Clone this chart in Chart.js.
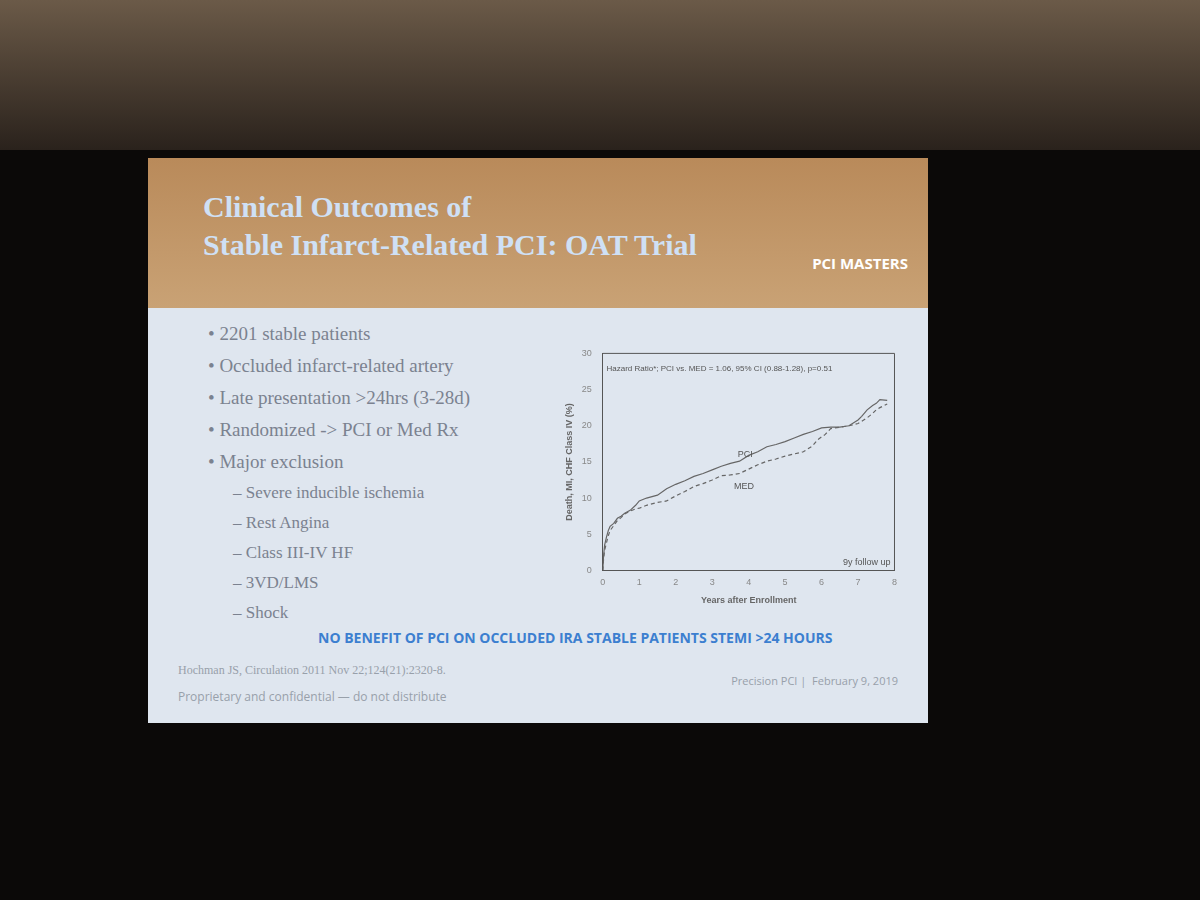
<!DOCTYPE html>
<html><head><meta charset="utf-8">
<script src="https://cdn.jsdelivr.net/npm/chart.js@4"></script>
<style>
body{margin:0;width:1200px;height:900px;background:#0b0908;position:relative;overflow:hidden;font-family:"Liberation Serif",serif}
#ceil{position:absolute;left:0;top:0;width:1200px;height:150px;background:linear-gradient(#6b5a48,#2a221c)}
#slide{position:absolute;left:148px;top:158px;width:780px;height:565px;background:#dfe6ef}
#hdr{position:absolute;left:0;top:0;width:780px;height:150px;background:linear-gradient(#b98a5a,#c9a275)}
#hdr h1{margin:0;position:absolute;left:55px;top:30px;color:#cfe0f5;font-weight:bold;font-size:30px;line-height:38px}
#logo{position:absolute;right:20px;top:95px;color:#fff;font-family:"Open Sans",sans-serif;font-size:15px;font-weight:bold}
ul{position:absolute;left:60px;top:160px;margin:0;padding:0;list-style:none;color:#7b8290;font-size:19px;line-height:32px}
ul li.s{padding-left:25px;font-size:17px;line-height:30px}
#msg{position:absolute;left:170px;top:470px;color:#3c7fd0;font-family:"Open Sans",sans-serif;font-weight:bold;font-size:14px}
#ref{position:absolute;left:30px;top:505px;color:#98a0aa;font-size:12px}
#conf{position:absolute;left:30px;top:530px;color:#98a0aa;font-family:"Open Sans",sans-serif;font-size:12px}
#date{position:absolute;right:30px;top:515px;color:#98a0aa;font-family:"Open Sans",sans-serif;font-size:11px}
#wrap{position:absolute;left:560px;top:345px;width:340px;height:265px}
</style></head><body>
<div id="ceil"></div>
<div id="slide">
<div id="hdr"><h1>Clinical Outcomes of<br>Stable Infarct-Related PCI: OAT Trial</h1><div id="logo">PCI MASTERS</div></div>
<ul>
<li>• 2201 stable patients</li>
<li>• Occluded infarct-related artery</li>
<li>• Late presentation &gt;24hrs (3-28d)</li>
<li>• Randomized -&gt; PCI or Med Rx</li>
<li>• Major exclusion</li>
<li class="s">– Severe inducible ischemia</li>
<li class="s">– Rest Angina</li>
<li class="s">– Class III-IV HF</li>
<li class="s">– 3VD/LMS</li>
<li class="s">– Shock</li>
</ul>
<div id="msg">NO BENEFIT OF PCI ON OCCLUDED IRA STABLE PATIENTS STEMI &gt;24 HOURS</div>
<div id="ref">Hochman JS, Circulation 2011 Nov 22;124(21):2320-8.</div>
<div id="conf">Proprietary and confidential — do not distribute</div>
<div id="date">Precision PCI | &nbsp;February 9, 2019</div>
</div>
<div id="wrap"><canvas id="c"></canvas></div>
<script>
const pciX=[0,0.02,0.05,0.1,0.15,0.2,0.3,0.4,0.5,0.6,0.75,0.9,1,1.2,1.5,1.75,2,2.25,2.5,2.75,3,3.25,3.5,3.75,4,4.25,4.5,4.75,5,5.25,5.5,5.75,6,6.25,6.5,6.75,7,7.1,7.25,7.4,7.5,7.6,7.8];
const pciY=[0,2,3.5,4.6,5.5,6.1,6.5,7.2,7.5,7.9,8.3,9,9.6,10,10.4,11.3,11.9,12.4,13,13.4,13.9,14.4,14.8,15.1,15.9,16.4,17.1,17.4,17.8,18.3,18.8,19.2,19.7,19.8,19.8,20,20.8,21.3,22.2,22.8,23.1,23.6,23.5];
const medX=[0,0.02,0.05,0.1,0.15,0.2,0.3,0.4,0.5,0.6,0.75,0.9,1,1.2,1.5,1.75,2,2.25,2.5,2.75,3,3.25,3.5,3.75,4,4.25,4.5,4.75,5,5.25,5.5,5.75,5.9,6.1,6.25,6.5,6.75,7,7.25,7.4,7.5,7.6,7.8];
const medY=[0,1.5,2.8,3.8,4.8,5.5,6.2,6.9,7.3,7.8,8.2,8.5,8.6,9,9.4,9.6,10.3,10.9,11.6,12,12.5,13.1,13.2,13.4,14,14.6,15.1,15.4,15.8,16.1,16.4,17.2,18.1,18.8,19.6,19.8,20,20.3,21.1,21.7,22.2,22.5,23];
const xTicks=[0,1,2,3,4,5,6,7,8];
const yTicks=[0,5,10,15,20,25,30];
const toPts=(xs,ys)=>xs.map((x,i)=>({x,y:ys[i]}));
const labels={id:'lab',afterDraw(ch){const c=ch.ctx,xs=ch.scales.x,ys=ch.scales.y,a=ch.chartArea;c.save();
c.strokeStyle='#555';c.lineWidth=1;c.beginPath();c.moveTo(a.left,a.top);c.lineTo(a.right,a.top);c.lineTo(a.right,a.bottom);c.stroke();
c.fillStyle='#555';c.font='8px "Liberation Sans"';
c.fillText('Hazard Ratio*; PCI vs. MED = 1.06, 95% CI (0.88-1.28), p=0.51',xs.getPixelForValue(0.1),ys.getPixelForValue(27.5));
c.font='9px "Liberation Sans"';c.fillText('PCI',xs.getPixelForValue(3.7),ys.getPixelForValue(15.7));c.fillText('MED',xs.getPixelForValue(3.6),ys.getPixelForValue(11.3));
c.textAlign='right';c.fillText('9y follow up',a.right-4,ys.getPixelForValue(0.8));c.restore();}};
new Chart(document.getElementById('c'),{type:'line',
data:{datasets:[
{label:'PCI',data:toPts(pciX,pciY),borderColor:'#666',borderWidth:1.2,pointRadius:0,tension:0},
{label:'MED',data:toPts(medX,medY),borderColor:'#666',borderWidth:1.2,borderDash:[4,3],pointRadius:0,tension:0}]},
options:{responsive:true,maintainAspectRatio:false,animation:false,plugins:{legend:{display:false},tooltip:{enabled:false}},
scales:{x:{type:'linear',min:0,max:8,afterBuildTicks:a=>{a.ticks=xTicks.map(v=>({value:v}))},grid:{display:false,drawTicks:true,tickLength:4},border:{color:'#555'},ticks:{color:'#888',font:{size:9}},title:{display:true,text:'Years after Enrollment',color:'#666',font:{size:9,weight:'bold'}}},
y:{min:0,max:30,afterBuildTicks:a=>{a.ticks=yTicks.map(v=>({value:v}))},grid:{display:false},border:{color:'#555'},ticks:{color:'#888',font:{size:9}},title:{display:true,text:'Death, MI, CHF Class IV (%)',color:'#666',font:{size:9,weight:'bold'}}}}},
plugins:[labels]});
</script></body></html>
